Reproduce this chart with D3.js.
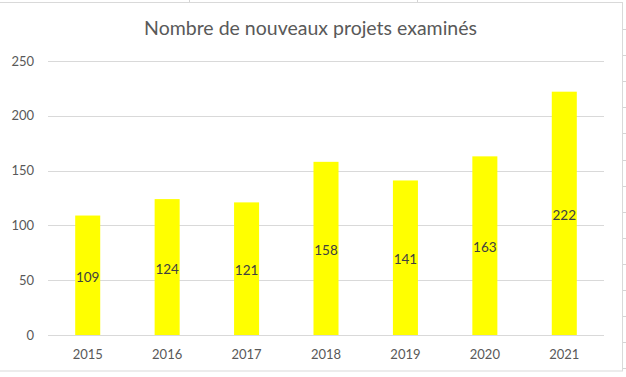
<!DOCTYPE html>
<html>
<head>
<meta charset="utf-8">
<script src="https://cdn.jsdelivr.net/npm/d3@7"></script>
<style>
  body { margin: 0; background: #fff; }
  svg { display: block; }
</style>
</head>
<body>
<div id="chart"></div>
<script>
const W = 626, H = 377

// data
const years = ['2015', '2016', '2017', '2018', '2019', '2020', '2021']
const projets = [109, 124, 121, 158, 141, 163, 222]
const yTicks = [0, 50, 100, 150, 200, 250]
const title = 'Nombre de nouveaux projets examinés'

const MARGIN = {top: 61, right: 22, bottom: 42, left: 48}
const FONT = 'Lato, "Open Sans", sans-serif'

let svg = d3.select('#chart').append('svg')
    .attr('width', W)
    .attr('height', H)

// spreadsheet cells visible behind the chart
let sheet = svg.append('g').attr('stroke', '#d4d4d4').attr('stroke-width', 1)
sheet.selectAll('line.v')
    .data([189.5, 417.5])
    .join('line')
    .attr('x1', d => d).attr('x2', d => d)
    .attr('y1', 0).attr('y2', 3)
sheet.selectAll('line.h')
    .data(d3.range(29, 377, 26.1))
    .join('line')
    .attr('x1', 622).attr('x2', W)
    .attr('y1', d => Math.round(d) + 0.5).attr('y2', d => Math.round(d) + 0.5)

// chart area
svg.append('rect')
    .attr('x', -1).attr('y', 2.5)
    .attr('width', 623.5).attr('height', 368.5)
    .attr('fill', '#fff')
    .attr('stroke', '#d9d9d9')

const innerW = 604 - MARGIN.left
const innerH = 335 - MARGIN.top

let x = d3.scaleBand().domain(years).range([MARGIN.left, MARGIN.left + innerW]).paddingInner(0.685).paddingOuter(0.3425)
let y = d3.scaleLinear().domain([0, 250]).range([335, MARGIN.top])

// gridlines
svg.append('g')
    .selectAll('line')
    .data(yTicks)
    .join('line')
    .attr('x1', MARGIN.left).attr('x2', MARGIN.left + innerW)
    .attr('y1', d => Math.round(y(d)) + 0.5).attr('y2', d => Math.round(y(d)) + 0.5)
    .attr('stroke', '#d9d9d9')

// y axis labels
let yAxis = svg.append('g')
    .attr('transform', 'translate(' + (MARGIN.left - 14) + ',0)')
    .call(d3.axisLeft(y).tickValues(yTicks).tickSize(0).tickPadding(0))
yAxis.select('.domain').remove()
yAxis.selectAll('text')
    .style('font-family', FONT)
    .style('font-size', '13px')
    .attr('fill', '#595959')

// x axis labels
let xAxis = svg.append('g')
    .attr('transform', 'translate(0,' + 335 + ')')
    .call(d3.axisBottom(x).tickSize(0).tickPadding(15))
xAxis.select('.domain').remove()
xAxis.selectAll('text')
    .style('font-family', FONT)
    .style('font-size', '13px')
    .attr('fill', '#595959')

// bars
svg.append('g')
    .selectAll('rect')
    .data(projets)
    .join('rect')
    .attr('x', (d, i) => x(years[i]))
    .attr('y', d => y(d))
    .attr('width', x.bandwidth())
    .attr('height', d => y(0) - y(d))
    .attr('fill', '#ffff00')

// value labels in the middle of each bar
svg.append('g')
    .selectAll('text')
    .data(projets)
    .join('text')
    .attr('x', (d, i) => x(years[i]) + x.bandwidth() / 2)
    .attr('y', d => (y(d) + y(0)) / 2 + 2)
    .attr('dy', '0.35em')
    .attr('text-anchor', 'middle')
    .style('font-family', FONT)
    .style('font-size', '13.5px')
    .attr('fill', '#404040')
    .text(d => d)

svg.append('text')
    .attr('x', 310.5)
    .attr('y', 35)
    .attr('text-anchor', 'middle')
    .style('font-family', FONT)
    .style('font-size', '19.5px')
    .attr('fill', '#595959')
    .text(title)
</script>
</body>
</html>
